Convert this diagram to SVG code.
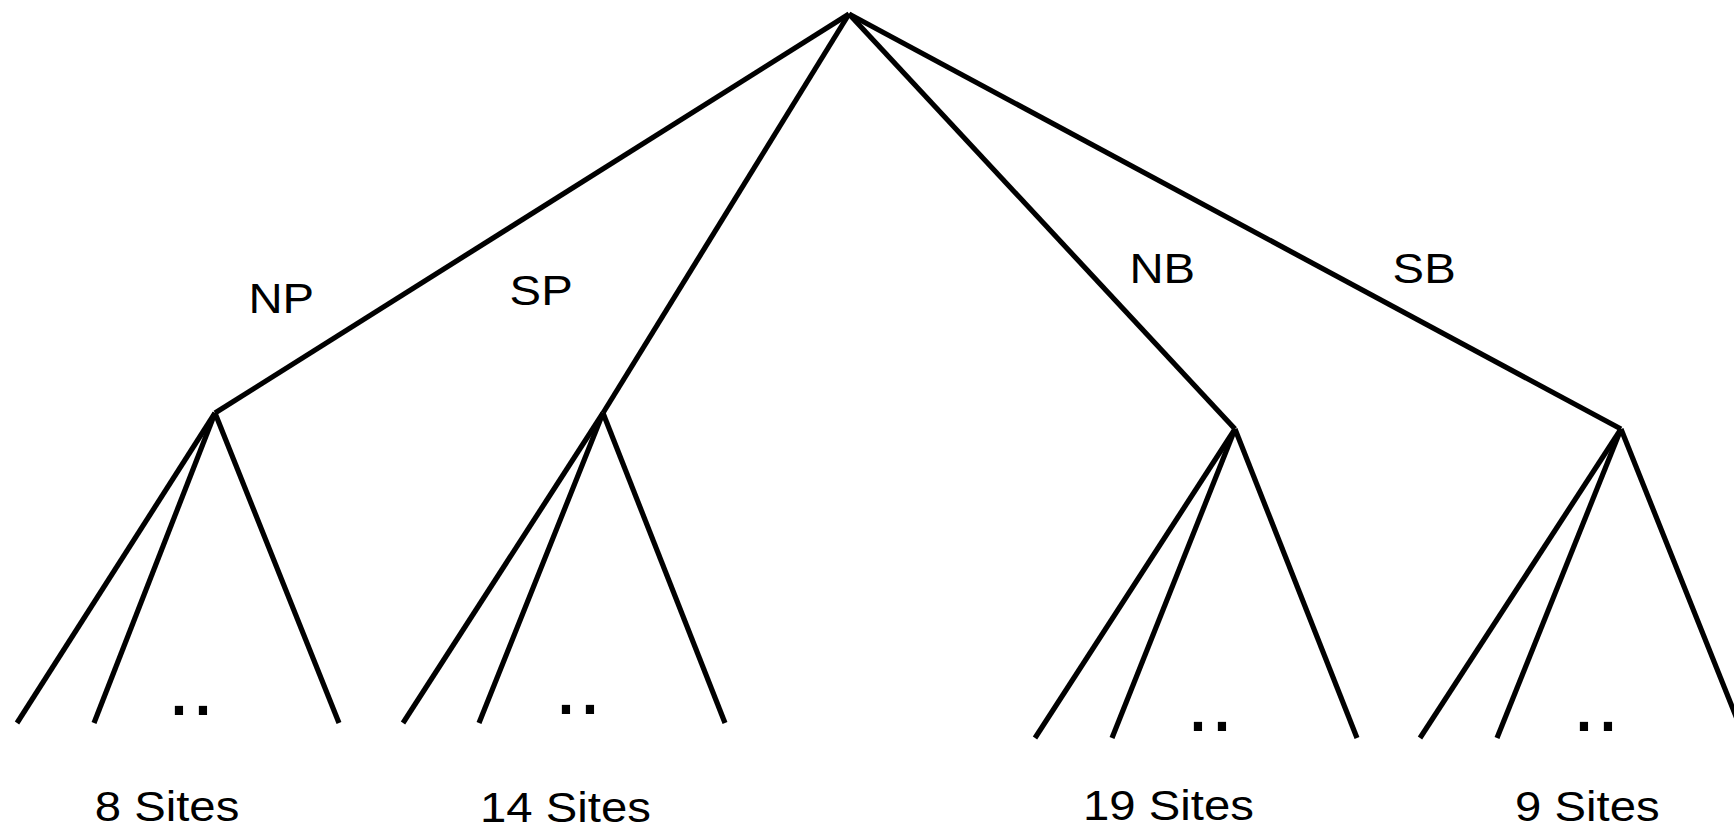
<svg xmlns="http://www.w3.org/2000/svg" width="1734" height="829" viewBox="0 0 1734 829">
  <style>
    .edge { stroke: #000; stroke-width: 5.2; fill: none; stroke-linecap: butt; stroke-linejoin: miter; }
    .lbl { font-family: "Liberation Sans", Arial, sans-serif; font-size: 43px; fill: #000; }
    .dots { font-family: "Liberation Sans", Arial, sans-serif; font-size: 86px; fill: #000; }
  </style>
  <rect width="1734" height="829" fill="#fff"/>

  <!-- connectors: root to regions, regions to sites -->
  <g id="connectors">
    <path class="edge" d="M849 14 L215 413"/>
    <path class="edge" d="M849 14 L603 413"/>
    <path class="edge" d="M849 14 L1235 429"/>
    <path class="edge" d="M849 14 L1621 429"/>

    <path class="edge" d="M215 413 L17 723"/>
    <path class="edge" d="M215 413 L94 723"/>
    <path class="edge" d="M215 413 L339 723"/>

    <path class="edge" d="M603 413 L403 723"/>
    <path class="edge" d="M603 413 L479 723"/>
    <path class="edge" d="M603 413 L725 723"/>

    <path class="edge" d="M1235 429 L1035 738"/>
    <path class="edge" d="M1235 429 L1112 738"/>
    <path class="edge" d="M1235 429 L1357 738"/>

    <path class="edge" d="M1621 429 L1420 738"/>
    <path class="edge" d="M1621 429 L1497 738"/>
    <path class="edge" d="M1621 429 L1745 739"/>
  </g>

  <!-- branch labels, ellipses and site counts -->
  <g id="node-np">
    <text class="lbl" x="248.4" y="313" textLength="65.7" lengthAdjust="spacingAndGlyphs">NP</text>
    <text class="dots" x="167" y="715">..</text>
    <text class="lbl" x="94.7" y="821" textLength="144.6" lengthAdjust="spacingAndGlyphs">8 Sites</text>
  </g>
  <g id="node-sp">
    <text class="lbl" x="509.6" y="305" textLength="63.1" lengthAdjust="spacingAndGlyphs">SP</text>
    <text class="dots" x="554" y="714">..</text>
    <text class="lbl" x="480" y="822" textLength="170.9" lengthAdjust="spacingAndGlyphs">14 Sites</text>
  </g>
  <g id="node-nb">
    <text class="lbl" x="1129.4" y="283" textLength="65.7" lengthAdjust="spacingAndGlyphs">NB</text>
    <text class="dots" x="1186" y="731">..</text>
    <text class="lbl" x="1083" y="820" textLength="170.9" lengthAdjust="spacingAndGlyphs">19 Sites</text>
  </g>
  <g id="node-sb">
    <text class="lbl" x="1392.6" y="283" textLength="63.1" lengthAdjust="spacingAndGlyphs">SB</text>
    <text class="dots" x="1572" y="731">..</text>
    <text class="lbl" x="1515" y="821" textLength="144.6" lengthAdjust="spacingAndGlyphs">9 Sites</text>
  </g>
</svg>
